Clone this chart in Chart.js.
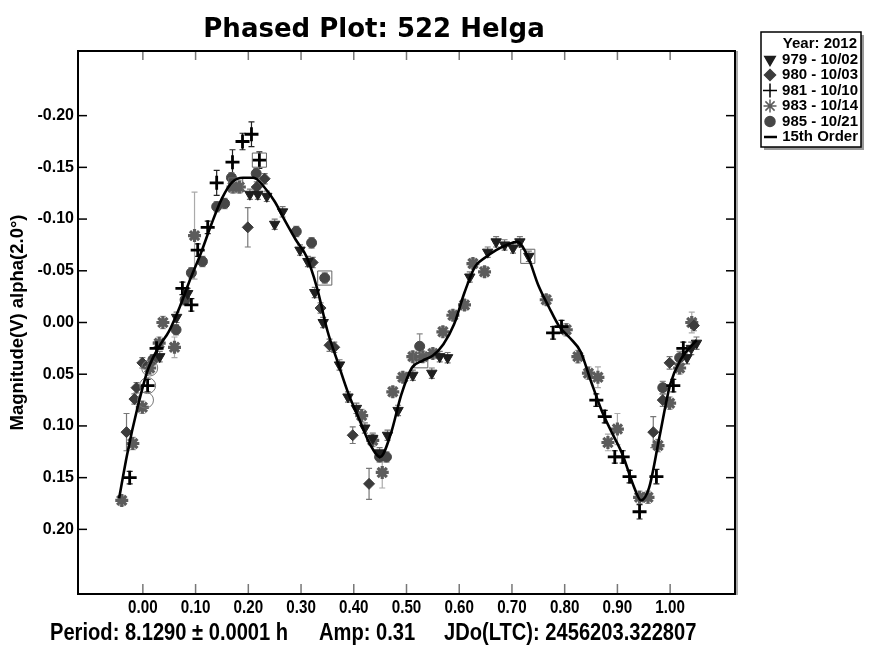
<!DOCTYPE html>
<html>
<head>
<meta charset="utf-8">
<script src="https://cdn.jsdelivr.net/npm/chart.js@4.4.0/dist/chart.umd.min.js"></script>
<style>
  html, body { margin: 0; padding: 0; background: #fff; }
  #wrap { width: 872px; height: 654px; position: relative; }
</style>
</head>
<body>
<div id="wrap"><canvas id="chart" width="872" height="654"></canvas></div>
<script>
// ── Data ───────────────────────────────────────────────────────────
// each point: [phase, magnitude, error]

const xTicks = [0.00, 0.10, 0.20, 0.30, 0.40, 0.50, 0.60, 0.70, 0.80, 0.90, 1.00];
const yTicks = [-0.20, -0.15, -0.10, -0.05, 0.00, 0.05, 0.10, 0.15, 0.20];

const s979 = [
  [0.032, 0.033, 0.005], [0.064, -0.005, 0.005], [0.085, -0.028, 0.005], [0.203, -0.124, 0.005],
  [0.218, -0.124, 0.005], [0.235, -0.122, 0.005], [0.250, -0.095, 0.005], [0.265, -0.107, 0.005],
  [0.298, -0.070, 0.005], [0.313, -0.059, 0.005], [0.326, -0.029, 0.005], [0.342, 0.000, 0.005],
  [0.373, 0.041, 0.005], [0.389, 0.072, 0.005], [0.405, 0.083, 0.005], [0.421, 0.102, 0.005],
  [0.436, 0.112, 0.005], [0.449, 0.126, 0.005], [0.464, 0.109, 0.005], [0.484, 0.085, 0.005],
  [0.512, 0.051, 0.005], [0.548, 0.049, 0.005], [0.563, 0.033, 0.005], [0.578, 0.034, 0.005],
  [0.620, -0.044, 0.005], [0.654, -0.068, 0.005], [0.670, -0.078, 0.005], [0.686, -0.075, 0.005],
  [0.702, -0.072, 0.005], [0.715, -0.078, 0.005], [0.732, -0.064, 0.005], [1.032, 0.034, 0.006],
  [1.040, 0.025, 0.006], [1.050, 0.020, 0.006]
];

const s980 = [
  [-0.031, 0.106, 0.018], [-0.016, 0.074, 0.005], [-0.012, 0.063, 0.005], [-0.001, 0.039, 0.005],
  [0.199, -0.092, 0.019], [0.216, -0.131, 0.005], [0.231, -0.139, 0.005], [0.322, -0.058, 0.005],
  [0.337, -0.014, 0.005], [0.354, 0.022, 0.006], [0.363, 0.024, 0.005], [0.398, 0.109, 0.008],
  [0.429, 0.156, 0.015], [0.968, 0.106, 0.015], [0.986, 0.075, 0.006], [0.999, 0.039, 0.006],
  [1.045, 0.003, 0.005]
];

const s981 = [
  [-0.025, 0.150, 0.006], [0.009, 0.061, 0.006], [0.026, 0.025, 0.006], [0.075, -0.033, 0.006],
  [0.092, -0.017, 0.006], [0.104, -0.070, 0.006], [0.123, -0.092, 0.006], [0.140, -0.135, 0.012],
  [0.170, -0.155, 0.012], [0.189, -0.175, 0.008], [0.206, -0.182, 0.012], [0.221, -0.157, 0.008],
  [0.778, 0.010, 0.006], [0.794, 0.004, 0.006], [0.860, 0.075, 0.006], [0.876, 0.091, 0.006],
  [0.895, 0.130, 0.006], [0.910, 0.130, 0.006], [0.923, 0.149, 0.006], [0.942, 0.183, 0.007],
  [0.974, 0.149, 0.007], [1.006, 0.061, 0.006], [1.025, 0.025, 0.006]
];

const s983 = [
  [-0.040, 0.172, 0.005], [-0.019, 0.117, 0.006], [-0.001, 0.082, 0.006], [0.013, 0.044, 0.006],
  [0.031, 0.020, 0.006], [0.038, 0.000, 0.006], [0.060, 0.024, 0.010], [0.098, -0.084, 0.042],
  [0.171, -0.131, 0.006], [0.183, -0.131, 0.006], [0.415, 0.090, 0.006], [0.436, 0.114, 0.006],
  [0.454, 0.145, 0.015], [0.474, 0.067, 0.005], [0.493, 0.053, 0.005], [0.512, 0.033, 0.005],
  [0.531, 0.033, 0.005], [0.550, 0.030, 0.005], [0.569, 0.009, 0.005], [0.588, -0.007, 0.005],
  [0.610, -0.017, 0.005], [0.626, -0.057, 0.005], [0.648, -0.049, 0.005], [0.765, -0.022, 0.005],
  [0.803, 0.007, 0.006], [0.825, 0.033, 0.006], [0.845, 0.049, 0.006], [0.863, 0.053, 0.010],
  [0.882, 0.116, 0.008], [0.900, 0.103, 0.015], [0.942, 0.169, 0.006], [0.958, 0.169, 0.006],
  [0.977, 0.119, 0.006], [0.999, 0.078, 0.006], [1.018, 0.044, 0.006], [1.041, 0.000, 0.010]
];

const s985 = [
  [0.019, 0.036, 0.005], [0.063, 0.007, 0.005], [0.080, -0.022, 0.005], [0.092, -0.048, 0.005],
  [0.113, -0.059, 0.005], [0.140, -0.112, 0.005], [0.155, -0.115, 0.005], [0.168, -0.140, 0.005],
  [0.215, -0.144, 0.005], [0.291, -0.088, 0.005], [0.320, -0.077, 0.005], [0.345, -0.043, 0.005],
  [0.449, 0.130, 0.005], [0.462, 0.130, 0.005], [0.525, 0.023, 0.012], [0.986, 0.063, 0.006],
  [1.018, 0.034, 0.006]
];

// highlighted (boxed / circled) points
const boxed = [[0.221, -0.157], [0.176, -0.133], [0.345, -0.043], [0.527, 0.037], [0.730, -0.064]];
const circled = [[0.009, 0.061], [0.005, 0.075], [0.013, 0.044]];

// 15th order fit
const fitPhase = [-0.045, -0.03, -0.01, 0.01, 0.03, 0.05, 0.07, 0.09, 0.11, 0.13, 0.15, 0.17, 0.19,
  0.21, 0.23, 0.25, 0.27, 0.29, 0.31, 0.33, 0.35, 0.37, 0.39, 0.41, 0.43, 0.45, 0.47, 0.49, 0.51,
  0.53, 0.55, 0.57, 0.59, 0.61, 0.63, 0.65, 0.67, 0.69, 0.71, 0.73, 0.75, 0.77, 0.79, 0.81, 0.83,
  0.85, 0.87, 0.89, 0.91, 0.93, 0.945, 0.96, 0.98, 1.00, 1.02, 1.05];
const fitMag = [0.170, 0.128, 0.082, 0.045, 0.024, 0.008, -0.015, -0.042, -0.067, -0.095, -0.120,
  -0.136, -0.140, -0.140, -0.131, -0.117, -0.098, -0.080, -0.064, -0.034, 0.008, 0.039, 0.069,
  0.093, 0.117, 0.130, 0.108, 0.070, 0.044, 0.037, 0.032, 0.021, 0.002, -0.029, -0.054, -0.063,
  -0.070, -0.075, -0.078, -0.064, -0.036, -0.015, 0.004, 0.015, 0.028, 0.057, 0.085, 0.107,
  0.128, 0.157, 0.172, 0.160, 0.110, 0.060, 0.036, 0.017];

// ── Helpers ────────────────────────────────────────────────────────

function pts(list) {
  return list.map(function (p) { return { x: p[0], y: p[1] }; });
}
function errs(list) {
  return list.map(function (p) { return p[2]; });
}

const SANS = '"Liberation Sans", Arial, sans-serif';

// text squeezed horizontally, like Arial Narrow
function narrowText(ctx, text, x, y, size, squeeze, align) {
  ctx.save();
  ctx.font = "bold " + size + "px " + SANS;
  ctx.textAlign = align || "left";
  ctx.textBaseline = "middle";
  ctx.translate(x, y);
  ctx.scale(squeeze, 1);
  ctx.fillText(text, 0, 0);
  ctx.restore();
}

// ── Plugins ────────────────────────────────────────────────────────

const errorBars = {
  id: "errorBars",
  beforeDatasetsDraw: function (chart) {
    const ctx = chart.ctx;
    const x = chart.scales.x, y = chart.scales.y;
    ctx.save();
    chart.data.datasets.forEach(function (ds) {
      if (!ds.errs) return;
      ctx.strokeStyle = ds.errColor;
      ctx.lineWidth = 1.2;
      ds.data.forEach(function (p, i) {
        const e = ds.errs[i];
        const px = x.getPixelForValue(p.x);
        const y1 = y.getPixelForValue(p.y - e);
        const y2 = y.getPixelForValue(p.y + e);
        ctx.beginPath();
        ctx.moveTo(px, y1); ctx.lineTo(px, y2);
        ctx.moveTo(px - 3, y1); ctx.lineTo(px + 3, y1);
        ctx.moveTo(px - 3, y2); ctx.lineTo(px + 3, y2);
        ctx.stroke();
      });
    });
    ctx.restore();
  }
};

const frame = {
  id: "frame",
  afterDraw: function (chart) {
    const ctx = chart.ctx;
    const a = chart.chartArea;
    const x = chart.scales.x, y = chart.scales.y;
    function line(x1, y1, x2, y2) {
      ctx.beginPath(); ctx.moveTo(x1, y1); ctx.lineTo(x2, y2); ctx.stroke();
    }
    ctx.save();
    ctx.lineWidth = 1.5;
    ctx.strokeStyle = "#777";
    x.ticks.forEach(function (t) {
      const px = x.getPixelForValue(t.value);
      line(px, a.bottom, px, a.bottom - 10);
      line(px, a.top, px, a.top + 9);
    });
    ctx.strokeStyle = "#000";
    y.ticks.forEach(function (t) {
      const py = y.getPixelForValue(t.value);
      line(a.left, py, a.left + 9, py);
      line(a.right, py, a.right - 9, py);
    });
    ctx.strokeStyle = "#aaa";
    ctx.lineWidth = 2;
    line(a.right + 2, a.top, a.right + 2, a.bottom + 1);
    ctx.strokeStyle = "#000";
    ctx.lineWidth = 2;
    ctx.strokeRect(a.left, a.top, a.right - a.left, a.bottom - a.top);

    // x tick labels, narrow face, at the scale's own tick positions
    ctx.fillStyle = "#000";
    x.ticks.forEach(function (t) {
      narrowText(ctx, Number(t.value).toFixed(2), x.getPixelForValue(t.value), a.bottom + 14, 19, 0.8, "center");
    });

    // title + footer
    ctx.textBaseline = "middle";
    ctx.textAlign = "center";
    ctx.font = "bold 26px 'DejaVu Sans', sans-serif";
    ctx.fillText("Phased Plot: 522 Helga", 374, 30);
    narrowText(ctx, "Period: 8.1290 \u00b1 0.0001 h", 50, 634, 23, 0.875);
    narrowText(ctx, "Amp: 0.31", 319, 634, 23, 0.875);
    narrowText(ctx, "JDo(LTC): 2456203.322807", 444, 634, 23, 0.875);
    ctx.restore();
  }
};

function drawLegend(ctx, items) {
  const left = 761, top = 32, w = 100, h = 115;
  ctx.save();
  ctx.fillStyle = "#999";
  ctx.fillRect(left + 3, top + 3, w, h);
  ctx.fillStyle = "#fff";
  ctx.fillRect(left, top, w, h);
  ctx.strokeStyle = "#000";
  ctx.lineWidth = 1.5;
  ctx.strokeRect(left, top, w, h);

  ctx.fillStyle = "#000";
  ctx.font = "bold 15px " + SANS;
  ctx.textBaseline = "middle";
  ctx.textAlign = "right";
  ctx.fillText("Year: 2012", left + w - 4, top + 12);

  items.forEach(function (ds, i) {
    const cy = top + 27.5 + i * 15.5;
    if (ds.type === "line") {
      ctx.strokeStyle = ds.borderColor;
      ctx.lineWidth = 2.5;
      ctx.beginPath(); ctx.moveTo(left + 3, cy); ctx.lineTo(left + 16, cy); ctx.stroke();
    } else {
      ctx.fillStyle = ds.pointBackgroundColor;
      ctx.strokeStyle = ds.pointBorderColor;
      Chart.helpers.drawPoint(ctx, {
        pointStyle: ds.pointStyle,
        rotation: ds.pointRotation || 0,
        radius: ds.pointRadius,
        borderWidth: ds.pointBorderWidth
      }, left + 9, cy);
    }
    ctx.fillStyle = "#000";
    ctx.fillText(ds.legendText, left + w - 3, cy);
  });
  ctx.restore();
}

// ── Datasets ───────────────────────────────────────────────────────

function seriesSet(list, text, style, color, radius, bw, errColor, rot) {
  return {
    type: "scatter",
    legendText: text,
    data: pts(list),
    errs: errs(list),
    errColor: errColor,
    pointStyle: style,
    pointRotation: rot || 0,
    pointRadius: radius,
    pointHoverRadius: radius,
    pointBackgroundColor: color,
    pointBorderColor: color,
    pointBorderWidth: bw
  };
}

const fitSet = {
  type: "line",
  legendText: "15th Order",
  data: fitPhase.map(function (p, i) { return { x: p, y: fitMag[i] }; }),
  borderColor: "#000",
  borderWidth: 2.6,
  pointRadius: 0,
  cubicInterpolationMode: "monotone",
  fill: false
};

const sessionSets = [
  seriesSet(s979, "979 - 10/02", "triangle", "#1e1e1e", 6, 1, "#777", 180),
  seriesSet(s980, "980 - 10/03", "rectRot", "#3c3c3c", 5.5, 1, "#777"),
  seriesSet(s981, "981 - 10/10", "cross", "#000", 7, 2.8, "#222"),
  seriesSet(s983, "983 - 10/14", "star", "#5c5c5c", 6.5, 3.2, "#aaa"),
  seriesSet(s985, "985 - 10/21", "circle", "#474747", 5, 1, "#888")
];

const markSets = [
  {
    type: "scatter",
    data: pts(boxed),
    pointStyle: "rect",
    pointRadius: 10,
    pointBackgroundColor: "rgba(0,0,0,0)",
    pointBorderColor: "#666",
    pointBorderWidth: 1
  },
  {
    type: "scatter",
    data: pts(circled),
    pointStyle: "circle",
    pointRadius: 8,
    pointBackgroundColor: "rgba(0,0,0,0)",
    pointBorderColor: "#777",
    pointBorderWidth: 1
  }
];

// ── Chart ──────────────────────────────────────────────────────────

new Chart(document.getElementById("chart"), {
  type: "scatter",
  data: { datasets: [fitSet].concat(markSets, sessionSets) },
  plugins: [errorBars, frame, {
    id: "boxLegend",
    afterDraw: function (chart) { drawLegend(chart.ctx, sessionSets.concat([fitSet])); }
  }],
  options: {
    responsive: false,
    animation: false,
    layout: { padding: { left: 0, top: 51, right: 137, bottom: 30 } },
    plugins: {
      legend: { display: false },
      tooltip: { enabled: false }
    },
    scales: {
      x: {
        type: "linear",
        min: -0.123,
        max: 1.123,
        grid: { display: false, drawTicks: false },
        border: { display: false },
        afterBuildTicks: function (scale) {
          scale.ticks = xTicks.map(function (v) { return { value: v }; });
        },
        afterFit: function (scale) { scale.height = 30; },
        ticks: { display: false }
      },
      y: {
        type: "linear",
        reverse: true,
        min: -0.2625,
        max: 0.2625,
        grid: { display: false, drawTicks: false },
        border: { display: false },
        afterBuildTicks: function (scale) {
          scale.ticks = yTicks.map(function (v) { return { value: v }; });
        },
        afterFit: function (scale) { scale.width = 78; },
        title: {
          display: true,
          text: "Magnitude(V) alpha(2.0\u00b0)",
          color: "#000",
          font: { family: SANS, size: 18.5, weight: "bold" },
          padding: { top: 7, bottom: 0 }
        },
        ticks: {
          padding: 4,
          color: "#000",
          font: { family: SANS, size: 16, weight: "bold" },
          callback: function (v) { return Number(v).toFixed(2); }
        }
      }
    }
  }
});
</script>
</body>
</html>
